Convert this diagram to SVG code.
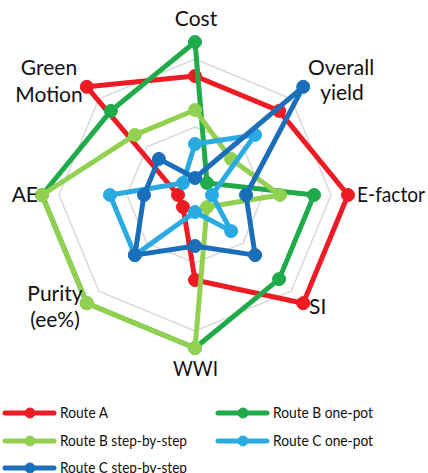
<svg xmlns="http://www.w3.org/2000/svg" width="428" height="473" viewBox="0 0 428 473">
<style>
.grid{fill:none;stroke:#d9d9d9;stroke-width:1.5}
.s{fill:none;stroke-width:5;stroke-linejoin:round;stroke-linecap:round}
.lab{font-family:Lato,"Open Sans","Liberation Sans",sans-serif;font-size:21px;fill:#111}
.leg{font-family:Lato,"Open Sans","Liberation Sans",sans-serif;font-size:15.5px;fill:#111}
.ra{stroke:#ed1c24;fill:#ed1c24}
.rb{stroke:#20ab4a;fill:#20ab4a}
.rbs{stroke:#92d050;fill:#92d050}
.rc{stroke:#29abe2;fill:#29abe2}
.rcs{stroke:#1b6fba;fill:#1b6fba}
</style>
<rect width="428" height="473" fill="#fff"/>
<g id="grid">
<polygon class="grid" points="195,127 243.1,146.9 263,195 243.1,243.1 195,263 146.9,243.1 127,195 146.9,146.9"/>
<polygon class="grid" points="195,59 291.2,98.8 331,195 291.2,291.2 195,331 98.8,291.2 59,195 98.8,98.8"/>
</g>
<g id="route-a" class="ra">
<polygon class="s ra" style="fill:none" points="195,76 279.1,110.9 348,195 303.2,303.2 195,280 183,207 178,195 86.8,86.8"/>
<circle cx="195" cy="76" r="6.5"/><circle cx="279.1" cy="110.9" r="6.5"/><circle cx="348" cy="195" r="6.5"/><circle cx="303.2" cy="303.2" r="6.5"/><circle cx="195" cy="280" r="6.5"/><circle cx="183" cy="207" r="6.5"/><circle cx="178" cy="195" r="6.5"/><circle cx="86.8" cy="86.8" r="6.5"/>
</g>
<g id="route-b-one-pot" class="rb">
<polygon class="s rb" style="fill:none" points="195,42 207,183 314,195 279.1,279.1 195,348 86.8,303.2 42,195 110.9,110.9"/>
<circle cx="195" cy="42" r="6.5"/><circle cx="207" cy="183" r="6.5"/><circle cx="314" cy="195" r="6.5"/><circle cx="279.1" cy="279.1" r="6.5"/><circle cx="195" cy="348" r="6.5"/><circle cx="86.8" cy="303.2" r="6.5"/><circle cx="42" cy="195" r="6.5"/><circle cx="110.9" cy="110.9" r="6.5"/>
</g>
<g id="route-b-step-by-step" class="rbs">
<polygon class="s rbs" style="fill:none" points="195,110 231.1,158.9 280,195 207,207 195,348 86.8,303.2 42,195 134.9,134.9"/>
<circle cx="195" cy="110" r="6.5"/><circle cx="231.1" cy="158.9" r="6.5"/><circle cx="280" cy="195" r="6.5"/><circle cx="207" cy="207" r="6.5"/><circle cx="195" cy="348" r="6.5"/><circle cx="86.8" cy="303.2" r="6.5"/><circle cx="42" cy="195" r="6.5"/><circle cx="134.9" cy="134.9" r="6.5"/>
</g>
<g id="route-c-one-pot" class="rc">
<polygon class="s rc" style="fill:none" points="195,144 255.1,134.9 212,195 231.1,231.1 195,212 134.9,255.1 110,195 183,183"/>
<circle cx="195" cy="144" r="6.5"/><circle cx="255.1" cy="134.9" r="6.5"/><circle cx="212" cy="195" r="6.5"/><circle cx="231.1" cy="231.1" r="6.5"/><circle cx="195" cy="212" r="6.5"/><circle cx="134.9" cy="255.1" r="6.5"/><circle cx="110" cy="195" r="6.5"/><circle cx="183" cy="183" r="6.5"/>
</g>
<g id="route-c-step-by-step" class="rcs">
<polygon class="s rcs" style="fill:none" points="195,178 303.2,86.8 246,195 255.1,255.1 195,246 134.9,255.1 144,195 158.9,158.9"/>
<circle cx="195" cy="178" r="6.5"/><circle cx="303.2" cy="86.8" r="6.5"/><circle cx="246" cy="195" r="6.5"/><circle cx="255.1" cy="255.1" r="6.5"/><circle cx="195" cy="246" r="6.5"/><circle cx="134.9" cy="255.1" r="6.5"/><circle cx="144" cy="195" r="6.5"/><circle cx="158.9" cy="158.9" r="6.5"/>
</g>
<g id="axis-labels">
<text class="lab" x="196" y="26" text-anchor="middle">Cost</text>
<text class="lab" x="341" y="75" text-anchor="middle">Overall</text>
<text class="lab" x="342" y="100" text-anchor="middle">yield</text>
<text class="lab" x="357" y="202" textLength="68" lengthAdjust="spacingAndGlyphs">E-factor</text>
<text class="lab" x="309" y="314">SI</text>
<text class="lab" x="173" y="376" textLength="45" lengthAdjust="spacingAndGlyphs">WWI</text>
<text class="lab" x="55" y="301" text-anchor="middle">Purity</text>
<text class="lab" x="55" y="327" text-anchor="middle">(ee%)</text>
<text class="lab" x="38" y="202" text-anchor="end">AE</text>
<text class="lab" x="49" y="75" text-anchor="middle">Green</text>
<text class="lab" x="49" y="102" text-anchor="middle">Motion</text>
</g>
<g id="legend">
<g class="ra"><line class="s" x1="5" y1="413" x2="54" y2="413"/><circle cx="30" cy="413" r="5"/></g>
<text class="leg" x="60" y="418" textLength="48" lengthAdjust="spacingAndGlyphs">Route A</text>
<g class="rb"><line class="s" x1="218" y1="413" x2="267" y2="413"/><circle cx="243" cy="413" r="5"/></g>
<text class="leg" x="273" y="418" textLength="100" lengthAdjust="spacingAndGlyphs">Route B one-pot</text>
<g class="rbs"><line class="s" x1="5" y1="441" x2="54" y2="441"/><circle cx="30" cy="441" r="5"/></g>
<text class="leg" x="60" y="446" textLength="127" lengthAdjust="spacingAndGlyphs">Route B step-by-step</text>
<g class="rc"><line class="s" x1="218" y1="441" x2="267" y2="441"/><circle cx="243" cy="441" r="5"/></g>
<text class="leg" x="273" y="446" textLength="100" lengthAdjust="spacingAndGlyphs">Route C one-pot</text>
<g class="rcs"><line class="s" x1="5" y1="468" x2="54" y2="468"/><circle cx="30" cy="468" r="5"/></g>
<text class="leg" x="60" y="473" textLength="127" lengthAdjust="spacingAndGlyphs">Route C step-by-step</text>
</g>
</svg>
